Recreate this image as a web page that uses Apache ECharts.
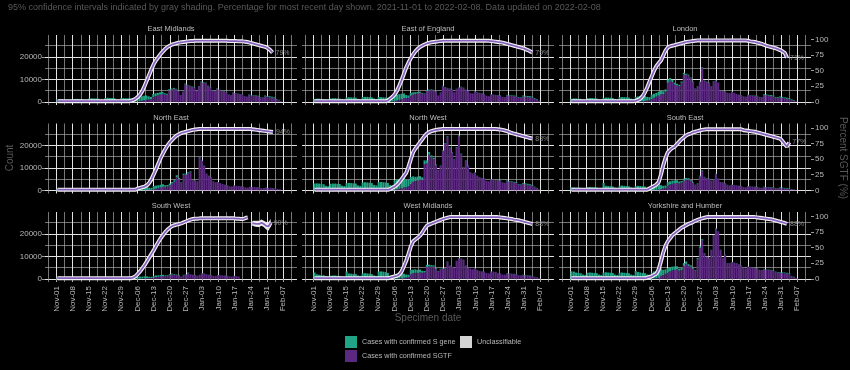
<!DOCTYPE html>
<html><head><meta charset="utf-8">
<script src="https://cdn.jsdelivr.net/npm/echarts@6/dist/echarts.min.js"></script>
<style>html,body{margin:0;padding:0;background:#000;}#c{width:850px;height:370px;}</style>
</head><body><div id="c"></div>
<script>
// ---------------- DATA ----------------
const regions = ['East Midlands','East of England','London','North East','North West','South East','South West','West Midlands','Yorkshire and Humber'];
const tickLabels = ['Nov-01','Nov-08','Nov-15','Nov-22','Nov-29','Dec-06','Dec-13','Dec-20','Dec-27','Jan-03','Jan-10','Jan-17','Jan-24','Jan-31','Feb-07'];
const countTicks = [0, 10000, 20000];
const countMinorTicks = [5000, 15000, 25000];
const pctTicks = [0, 25, 50, 75, 100];
const titleText = '95% confidence intervals indicated by gray shading. Percentage for most recent day shown. 2021-11-01 to 2022-02-08. Data updated on 2022-02-08';

// daily values from 2021-11-01 (index 0) to 2022-02-08 (index 99)
const emS = [1100,1200,1100,1000,900,600,500, 1200,1300,1300,1200,1100,800,600, 1500,1600,1500,1500,1400,1000,800, 1700,1800,1700,1700,1600,1100,900, 1700,1700,1600,1600,1500,1000,800, 1850,2000,2050,2000,1800,1350,1050, 1350,1250,1100,950,850,550,450, 550,450,450,350,250,150,200, 250,230,220,200,200,150,210, 270,260,250,220,200,160,150, 180,160,150,150,130,100,90, 130,120,110,110,100,80,90, 170,190,210,230,270,180,190, 340,360,400,420,400,300,200, 80,null];
const emG = [0,0,0,0,0,0,0, 0,0,0,0,0,0,0, 0,0,0,0,0,0,0, 0,0,0,0,0,0,0, 0,0,0,0,0,30,40, 150,300,450,700,1000,1050,1150, 2150,2550,2900,3250,3550,3250,3150, 5050,5450,5750,5450,4750,2850,4300, 7850,7370,6980,6600,6200,4850,6790, 8730,8540,8250,6980,6400,5040,4850, 5820,5240,4850,4650,4270,3200,2910, 4070,3780,3590,3390,3200,2420,2210, 3130,2910,2790,2670,2430,1820,1710, 2460,2240,2100,1880,1600,1000,700, 320,null];
const emP = [1,1,1,1,1,1,1, 1,1,1,1,1,1,1, 1,1,1,1,1,1,1, 1,1,1,1,1,1,1, 1,1,1,1,2,3,5, 8,12,18,26,35,44,53, 61,67,72,77,81,85,88, 90,92,93,94,95,95.5,96, 96.5,97,97.5,97.5,98,98,98, 98,98,98,98,98,98,98, 98,98,98,98,98,97.5,97.5, 97.5,97.5,97,97,97,96.5,96, 95,94,93,92,91,90,89, 88,86,83,79,null,null,null, null,null];

const eeS = [1300,1400,1400,1300,1200,900,700, 1500,1600,1600,1500,1400,1100,900, 1900,2000,2000,1900,1800,1300,1100, 2100,2200,2200,2100,2000,1500,1200, 2100,2100,2000,1900,1800,1240,1010, 2460,2620,2520,2340,2040,1350,1040, 1200,1000,820,660,540,380,300, 340,300,250,210,160,90,130, 140,130,120,120,110,80,120, 130,130,130,110,100,80,70, 90,90,80,80,70,50,60, 90,100,110,120,130,110,110, 220,240,260,280,300,250,260, 390,420,440,450,440,320,250, 100,null];
const eeG = [0,0,0,0,0,0,0, 0,0,0,0,0,0,0, 0,0,0,0,0,0,0, 0,0,0,0,0,0,0, 0,0,0,0,0,60,90, 340,580,880,1260,1660,1650,1760, 2800,3200,3480,3740,3960,3420,3400, 4860,5100,5350,5090,4440,2710,4070, 6960,6470,6080,5780,5390,4120,5680, 6370,6570,6170,5290,4800,3720,3630, 4610,4210,3920,3720,3430,2650,2440, 3310,3100,2990,2880,2770,2090,1990, 2880,2760,2640,2520,2400,1850,1740, 2410,2280,2160,2050,1860,1280,950, 400,null];
const eeP = [1,1,1,1,1,1,1, 1,1,1,1,1,1,1, 1,1,1,1,1,1,1, 1,1,1,1,1,1,1, 1,1,1,1,2,5,8, 12,18,26,35,45,55,63, 70,76,81,85,88,90,92, 93.5,94.5,95.5,96,96.5,97,97.5, 98,98,98,98,98,98,98, 98,98,98,98,98,98,98, 98,98,98,98,98,98,97.8, 97.5,97,96.5,96,95.5,95,94, 93,92,91,90,89,88,87, 86,84.5,83,81,79,null,null, null,null];

const loS = [1400,1500,1500,1400,1300,900,800, 1600,1700,1700,1600,1500,1100,900, 1800,1900,1900,1800,1700,1300,1100, 2000,2100,2100,2000,1900,1400,1200, 2170,2330,2380,2370,2300,1690,1430, 1890,1800,1720,1710,1700,1220,990, 1290,1170,980,770,640,530,540, 650,500,420,320,230,120,110, 140,230,140,140,130,110,140, 140,130,80,70,70,60,60, 70,60,50,50,50,40,40, 80,90,120,140,160,150,170, 310,360,370,390,390,330,340, 430,440,460,470,460,330,260, 100,null];
const loG = [0,0,0,0,0,0,0, 0,0,0,0,0,0,0, 0,0,0,0,0,0,0, 0,0,0,0,0,0,0, 30,70,120,230,400,510,670, 1310,1800,2280,2790,3300,3480,4510, 8610,9430,8820,7730,7360,7070,8460, 12250,12000,11680,10480,8770,5880,6890, 8860,15170,9360,8860,8370,6890,9060, 9460,8370,4920,4730,4630,3940,3740, 4430,3940,3450,3150,2950,2460,2260, 3120,2910,2780,2660,2540,2050,1930, 3090,2940,2730,2610,2410,1870,1760, 1970,1760,1540,1330,1140,770,540, 200,null];
const loP = [1,1,1,1,1,1,1, 1,1,1,1,1,1,1, 1,1,1,1,1,1,1, 1,1,1,1,1,1,1, 1.5,3,5,9,15,23,32, 41,50,57,62,66,74,82, 87,89,90,91,92,93,94, 95,96,96.5,97,97.5,98,98.5, 98.5,98.5,98.5,98.5,98.5,98.5,98.5, 98.5,98.5,98.5,98.5,98.5,98.5,98.5, 98.5,98.5,98.5,98.5,98.5,98.5,98.5, 98,97,96.5,96,95,94,93, 91.5,90,89,88,87,86,84.5, 83,81,78.5,71,null,null,null, null,null];

const neS = [700,800,800,700,700,500,400, 800,800,800,800,700,500,400, 800,900,900,800,800,600,500, 900,900,900,900,800,600,500, 900,900,900,900,800,600,500, 1160,1250,1330,1410,1380,1060,900, 1410,1390,1310,1200,1110,780,670, 690,700,680,800,550,280,520, 440,400,340,130,120,80,220, 200,170,110,100,90,60,50, 60,50,40,40,30,30,30, 30,30,30,30,30,20,20, 30,40,50,50,60,40,50, 60,60,60,60,60,40,30, 10,null];
const neG = [0,0,0,0,0,0,0, 0,0,0,0,0,0,0, 0,0,0,0,0,0,0, 0,0,0,0,0,0,0, 0,0,0,0,0,0,0, 40,50,70,90,120,140,200, 490,710,990,1300,1590,1520,1730, 2310,3000,3820,5900,4950,3220,6880, 6960,7600,8060,4270,4480,3920,14580, 13100,10830,7290,6400,5810,3940,3550, 3640,3150,2760,2460,2270,1770,1670, 2170,1970,1870,1770,1670,1280,1180, 1570,1460,1450,1350,1340,960,950, 1140,1040,1040,940,840,560,370, 190,null];
const neP = [1,1,1,1,1,1,1, 1,1,1,1,1,1,1, 1,1,1,1,1,1,1, 1,1,1,1,1,1,1, 1,1,1,1,1,1,1, 3,4,5,6,8,12,18, 26,34,43,52,59,66,72, 77,81,85,88,90,92,93, 94,95,96,97,97.5,98,98.5, 98.5,98.5,98.5,98.5,98.5,98.5,98.5, 98.5,98.5,98.5,98.5,98.5,98.5,98.5, 98.5,98.5,98.5,98.5,98.5,98.5,98.5, 98.5,98,97.5,97,96.5,96,95.5, 95,94.5,94,93.5,null,null,null, null,null];

const nwS = [3000,3100,3000,2900,2700,2000,1800, 2900,3000,3000,2900,2800,2100,1900, 3200,3300,3200,3100,3000,2200,2000, 3500,3600,3500,3400,3200,2400,2200, 3600,3700,3600,3500,3300,2230,2110, 4140,4370,4350,4350,4240,3310,2910, 2950,2420,1980,1710,1450,1040,1730, 1200,1100,780,580,350,230,220, 270,320,360,290,260,210,290, 370,240,160,200,170,120,110, 120,100,90,80,80,60,60, 80,100,120,140,180,140,170, 220,270,320,340,360,300,310, 430,430,440,430,410,270,190, 70,null];
const nwG = [0,0,0,0,0,0,0, 0,0,0,0,0,0,0, 0,0,0,0,0,0,0, 0,0,0,0,0,0,0, 0,0,0,0,0,70,90, 260,430,650,950,1260,1290,1790, 2950,3780,4020,4390,4850,4760,11570, 12100,15900,14720,13920,11150,8770,10780, 17530,20680,23640,18710,16740,13790,18910, 24030,16060,10240,13100,10830,7880,7390, 7980,6400,5810,5420,5120,4140,3940, 4920,4700,4480,4360,4220,3360,3130, 4180,3930,3680,3460,3240,2400,2290, 2870,2670,2460,2270,1990,1330,910, 330,null];
const nwP = [1,1,1,1,1,1,1, 1,1,1,1,1,1,1, 1,1,1,1,1,1,1, 1,1,1,1,1,1,1, 1,1,1,1,1,2,4, 6,9,13,18,23,28,38, 50,61,67,72,77,82,87, 91,93.5,95,96,97,97.5,98, 98.5,98.5,98.5,98.5,98.5,98.5,98.5, 98.5,98.5,98.5,98.5,98.5,98.5,98.5, 98.5,98.5,98.5,98.5,98.5,98.5,98.5, 98.5,98.5,98.5,98,97.5,97,96, 95,93.5,92,91,90,89,88, 87,86,85,84,83,null,null, null,null];

const seS = [1300,1300,1200,1200,1100,800,700, 1400,1500,1400,1400,1300,900,800, 3300,2000,1900,1800,1700,1200,1000, 2000,2100,2000,1900,1800,1300,1100, 1900,2000,1900,1800,1700,1200,1070, 1710,1770,1820,1910,1730,1200,1010, 1400,1400,1380,1320,1170,860,760, 780,660,540,410,250,150,160, 260,270,150,140,130,110,130, 190,130,90,90,80,60,60, 70,60,60,50,50,40,40, 90,90,90,100,110,100,100, 160,170,180,180,200,150,160, 220,250,290,300,210,150,100, 50,null];
const seG = [0,0,0,0,0,0,0, 0,0,0,0,0,0,0, 0,0,0,0,0,0,0, 0,0,0,0,0,0,0, 0,0,0,0,0,0,30, 90,130,180,290,570,800,1090, 2200,2600,2920,3080,3330,3040,3440, 4420,4840,4860,4090,3250,2350,3040, 6240,8630,5850,5260,5070,4190,4870, 7210,5070,3610,3410,3120,2440,2140, 2530,2340,2140,2050,1950,1460,1360, 1810,1710,1610,1600,1490,1100,1000, 1440,1330,1320,1220,1200,850,840, 1080,950,810,700,690,450,300, 150,null];
const seP = [1,1,1,1,1,1,1, 1,1,1,1,1,1,1, 1,1,1,1,1,1,1, 1,1,1,1,1,1,1, 1,1,1,1,1,1,3, 5,7,9,13,25,40,52, 61,65,68,70,74,78,82, 85,88,90,91,93,94,95, 96,97,97.5,98,98,98,98, 98,98,98,98,98,98,98, 98,98,98,98,98,96.5,96, 95.5,95,94.5,94,93,92,91, 90,89,88,87,86,85,84, 83,79,74,70,77,null,null, null,null];

const swS = [600,700,700,600,600,400,400, 700,700,700,700,600,500,400, 700,800,700,700,700,500,400, 700,800,800,700,700,500,400, 700,800,700,700,700,490,380, 830,880,830,860,790,590,540, 700,710,660,600,540,380,340, 400,360,290,250,190,110,170, 160,180,100,60,60,50,60, 80,80,70,60,60,40,40, 60,50,50,50,50,40,30, 40,40,30,null,null,null,null, null,null,null,null,null,null,null, null,null,null,null,null,null,null, null,null];
const swG = [0,0,0,0,0,0,0, 0,0,0,0,0,0,0, 0,0,0,0,0,0,0, 0,0,0,0,0,0,0, 0,0,0,0,0,10,20, 70,120,170,240,310,310,360, 600,790,940,1100,1260,1120,1260, 1800,1940,1810,1650,1410,890,1630, 1840,2620,1900,1740,1640,1350,1740, 2420,2320,1930,1740,1640,1260,1260, 1640,1550,1450,1450,1350,1060,970, 1260,1160,970,null,null,null,null, null,null,null,null,null,null,null, null,null,null,null,null,null,null, null,null];
const swP = [1,1,1,1,1,1,1, 1,1,1,1,1,1,1, 1,1,1,1,1,1,1, 1,1,1,1,1,1,1, 1,1,1,1,1,2,4, 8,12,17,22,28,34,40, 46,53,59,65,70,75,79, 82,84.5,86,87,88,89,90.5, 92,93.5,95,96,96.5,96.5,97, 97,97,97,97,97,97,97, 97,97,97,97,97,97,97, 97,96.5,96.5,96,96,97.5,98.5, null,89,88.5,88,88,90,88, 85,84,90,null,null,null,null, null,null];
const swLow = [null,null,null,null,null,null,null, null,null,null,null,null,null,null, null,null,null,null,null,null,null, null,null,null,null,null,null,null, null,null,null,null,null,null,null, null,null,null,null,null,null,null, null,null,null,null,null,null,null, null,null,null,null,null,null,null, null,null,null,null,null,null,null, null,null,null,null,null,null,null, null,null,null,null,null,null,null, null,null,null,null,null,null,null, null,85,84,83,83,85,83, 79,77,84,null,null,null,null, null,null];
const swHigh = [null,null,null,null,null,null,null, null,null,null,null,null,null,null, null,null,null,null,null,null,null, null,null,null,null,null,null,null, null,null,null,null,null,null,null, null,null,null,null,null,null,null, null,null,null,null,null,null,null, null,null,null,null,null,null,null, null,null,null,null,null,null,null, null,null,null,null,null,null,null, null,null,null,null,null,null,null, null,null,null,null,null,null,null, null,93,93,93,93,95,93, 91,91,96,null,null,null,null, null,null];

const wmS = [2800,2000,1800,1700,1600,1200,1000, 1400,1500,1500,1400,1300,1000,900, 3300,2400,2300,2200,2100,1500,1300, 2400,2500,2400,2300,2100,1500,1300, 3200,3300,3200,3000,2600,1270,970, 1920,2000,1860,1940,1840,1350,1080, 1920,1640,1550,1360,1270,940,700, 930,820,700,600,400,250,250, 190,140,150,60,60,50,80, 90,90,90,60,50,50,40, 50,40,40,30,30,30,20, 30,30,30,30,40,40,50, 80,80,90,110,120,100,110, 140,150,160,170,160,110,80, 40,null];
const wmG = [0,0,0,0,0,0,0, 0,0,0,0,0,0,0, 0,0,0,0,0,0,0, 0,0,0,0,0,0,0, 0,0,0,0,0,30,30, 80,100,140,260,460,550,720, 2080,2460,2650,2640,2830,2660,2800, 5270,5480,5400,5400,4300,3250,4250, 4510,4660,7550,5940,5440,4750,7920, 9110,8910,8410,5940,4950,4450,4260, 4650,3960,3460,3270,3170,2570,2380, 3270,3170,3070,2470,2360,1860,1750, 2420,2320,2210,2090,1980,1500,1390, 1660,1550,1440,1330,1140,790,620, 260,null];
const wmP = [1,1,1,1,1,1,1, 1,1,1,1,1,1,1, 1,1,1,1,1,1,1, 1,1,1,1,1,1,1, 1,1,1,1,1,2,3, 4,5,7,12,20,29,40, 52,60,63,66,69,74,80, 85,87,88.5,90,91.5,93,94.5, 96,97,98,99,99,99,99, 99,99,99,99,99,99,99, 99,99,99,99,99,99,99, 99,99,99,99,98.5,98,97.5, 97,96.5,96,95,94.5,94,93, 92,91,90,89,88,null,null, null,null];

const yhS = [3300,3200,2800,2600,2500,1900,1700, 2700,2800,2700,2600,2500,1900,1700, 2800,2900,2800,2700,2600,1900,1700, 2700,2800,2700,2600,2500,1900,1700, 3500,3000,2800,2600,2500,1860,1750, 2590,3100,3040,2890,3380,2320,1970, 1920,1750,1620,1490,1340,970,860, 1120,1080,780,630,450,280,510, 580,530,230,100,90,130,200, 230,210,130,90,110,70,70, 80,70,70,70,60,50,50, 60,50,50,50,70,80,100, 130,150,160,180,210,210,230, 260,280,290,320,310,160,110, 50,null];
const yhG = [0,0,0,0,0,0,0, 0,0,0,0,0,0,0, 0,0,0,0,0,0,0, 0,0,0,0,0,0,0, 0,0,0,0,0,40,50, 110,200,260,510,1320,1680,2230, 2880,3250,3780,4010,4260,3630,3940, 5880,6620,5720,5370,4550,3720,8690, 13820,17070,11170,9900,9110,12770,19300, 22270,20790,12770,9110,10590,6930,6930, 7420,7130,6930,6430,5940,4950,4650, 5440,5250,4950,4750,4630,3920,3800, 4270,4050,3940,3820,3690,2990,2770, 2740,2620,2510,2380,2290,1140,790, 350,null];
const yhP = [1,1,1,1,1,1,1, 1,1,1,1,1,1,1, 1,1,1,1,1,1,1, 1,1,1,1,1,1,1, 1,1,1,1,1,2,3, 4,6,8,15,28,42,53, 60,65,70,73,76,79,82, 84,86,88,89.5,91,93,94.5, 96,97,98,99,99,99,99, 99,99,99,99,99,99,99, 99,99,99,99,99,99,99, 99,99,99,99,98.5,98,97.5, 97,96.5,96,95.5,94.5,93.5,92.5, 91.5,90.5,89.5,88,null,null,null, null,null];

const sGene = [emS, eeS, loS, neS, nwS, seS, swS, wmS, yhS];
const sgtf = [emG, eeG, loG, neG, nwG, seG, swG, wmG, yhG];
const pctSGTF = [emP, eeP, loP, neP, nwP, seP, swP, wmP, yhP];

// ---------------- LAYOUT / STYLE ----------------
const DAY = 86400000;
const T0 = Date.UTC(2021, 10, 1);
const dateOf = d => T0 + d * DAY;
const X_MIN = dateOf(-4.95), X_MAX = dateOf(103.95);
const C_MIN = -1414, C_MAX = 29697;          // count axis limits
const PCT_PER = 277;                          // counts per percent on the secondary axis
const P_MIN = C_MIN / PCT_PER, P_MAX = C_MAX / PCT_PER;
const colLeft = [45, 302, 559], rowTop = [35, 123.5, 212], PW = 252, PH = 70;
const FONT = 'Liberation Sans, Arial, sans-serif';
const TEAL = '#21a386', PURPLE = '#5b2a80', UNCL = '#d4d4d4';
const MAJOR = '#e2e2e2', MINOR = '#a8a8a8';

const majorTickTimes = tickLabels.map((_, i) => dateOf(i * 7));
const minorTickTimes = [];
for (let i = -1; i < tickLabels.length; i++) minorTickTimes.push(dateOf(i * 7 + 3.5));
const labelOf = v => { const i = majorTickTimes.indexOf(v); return i >= 0 ? tickLabels[i] : ''; };

const grids = [], xAxes = [], yAxes = [], series = [], graphics = [];
regions.forEach((name, i) => {
  const row = Math.floor(i / 3), col = i % 3;
  grids.push({left: colLeft[col], top: rowTop[row], width: PW, height: PH, containLabel: false});
  const bottom = row === 2;
  // data axis (time, hidden)
  xAxes.push({type: 'time', gridIndex: i, min: X_MIN, max: X_MAX, position: 'bottom', show: false,
    splitLine: {show: false}});
  // major grid / labels (value axis over the same range)
  xAxes.push({type: 'value', gridIndex: i, min: X_MIN, max: X_MAX, position: 'bottom',
    axisLine: {show: false},
    axisTick: {show: bottom, customValues: majorTickTimes, length: 3, lineStyle: {color: '#9a9a9a'}},
    axisLabel: {show: bottom, customValues: majorTickTimes, formatter: labelOf, rotate: 90, fontSize: 8, color: '#b8b8b8', fontFamily: FONT, margin: 4, hideOverlap: false},
    splitLine: {show: true, lineStyle: {color: MAJOR, width: 1}}});
  // minor grid
  xAxes.push({type: 'value', gridIndex: i, min: X_MIN, max: X_MAX, position: 'top',
    axisLine: {show: false}, axisLabel: {show: false},
    axisTick: {show: false, customValues: minorTickTimes},
    splitLine: {show: true, lineStyle: {color: MINOR, width: 0.7}}});
  yAxes.push({type: 'value', gridIndex: i, min: C_MIN, max: C_MAX, position: 'left',
    axisLine: {show: false},
    axisTick: {show: col === 0, customValues: countTicks, length: 3, lineStyle: {color: '#9a9a9a'}},
    axisLabel: {show: col === 0, customValues: countTicks, formatter: v => String(v), fontSize: 8, color: '#b8b8b8', fontFamily: FONT, margin: 3},
    splitLine: {show: true, lineStyle: {color: MAJOR, width: 1}}});
  yAxes.push({type: 'value', gridIndex: i, min: P_MIN, max: P_MAX, position: 'right',
    axisLine: {show: false},
    axisTick: {show: col === 2, customValues: pctTicks, length: 3, lineStyle: {color: '#9a9a9a'}},
    axisLabel: {show: col === 2, customValues: pctTicks, formatter: v => String(v), fontSize: 8, color: '#b8b8b8', fontFamily: FONT, margin: 4},
    splitLine: {show: false}});
  yAxes.push({type: 'value', gridIndex: i, min: C_MIN, max: C_MAX, position: 'left',
    axisLine: {show: false}, axisLabel: {show: false},
    axisTick: {show: false, customValues: countMinorTicks},
    splitLine: {show: true, lineStyle: {color: MINOR, width: 0.7}}});

  const xi = 3 * i, yc = 3 * i, yp = 3 * i + 1;
  const pairs = arr => arr.map((v, d) => [dateOf(d), v]);
  series.push({type: 'bar', name: 'Cases with confirmed SGTF', xAxisIndex: xi, yAxisIndex: yc, stack: 'st' + i,
    data: pairs(sgtf[i]), itemStyle: {color: PURPLE}, barWidth: '92%', silent: true});
  series.push({type: 'bar', name: 'Cases with confirmed S gene', xAxisIndex: xi, yAxisIndex: yc, stack: 'st' + i,
    data: pairs(sGene[i]), itemStyle: {color: TEAL}, barWidth: '92%', silent: true});
  series.push({type: 'line', xAxisIndex: xi, yAxisIndex: yp, data: pairs(pctSGTF[i]), showSymbol: false,
    connectNulls: false, lineStyle: {color: '#f2f2f2', width: 4}, silent: true, z: 3});
  if (name === 'South West') {
    series.push({type: 'custom', xAxisIndex: xi, yAxisIndex: yp, z: 3, silent: true,
      data: [[dateOf(0), 0]],
      renderItem: (params, api) => {
        const lo = [], hi = [];
        swLow.forEach((v, d) => { if (v != null) lo.push(api.coord([dateOf(d), v])); });
        swHigh.forEach((v, d) => { if (v != null) hi.push(api.coord([dateOf(d), v])); });
        return {type: 'polygon', shape: {points: lo.concat(hi.reverse())}, style: {fill: '#e6e6e6'}};
      }});
  }
  series.push({type: 'line', xAxisIndex: xi, yAxisIndex: yp, data: pairs(pctSGTF[i]), showSymbol: false,
    connectNulls: false, lineStyle: {color: '#8560bd', width: 1.7}, silent: true, z: 4,
    endLabel: {show: true, formatter: p => Math.round(p.value[1]) + '%', color: '#8a8a8a', fontSize: 7, fontFamily: FONT, distance: 3}});

  graphics.push({type: 'text', x: colLeft[col] + PW / 2, y: rowTop[row] - 6,
    style: {text: name, fill: '#bdbdbd', fontSize: 7.5, fontFamily: FONT, align: 'center', verticalAlign: 'middle'}});
});
series.push({type: 'bar', name: 'Unclassifiable', xAxisIndex: 0, yAxisIndex: 0, data: [], itemStyle: {color: UNCL}});

graphics.push({type: 'text', x: 8, y: 8, style: {text: titleText, fill: '#595959', fontSize: 9, fontFamily: FONT, align: 'left', verticalAlign: 'middle'}});
graphics.push({type: 'text', x: 10, y: 158, rotation: Math.PI / 2, style: {text: 'Count', fill: '#595959', fontSize: 10, fontFamily: FONT, align: 'center', verticalAlign: 'middle'}});
graphics.push({type: 'text', x: 428, y: 318, style: {text: 'Specimen date', fill: '#595959', fontSize: 10, fontFamily: FONT, align: 'center', verticalAlign: 'middle'}});
graphics.push({type: 'text', x: 843, y: 158, rotation: -Math.PI / 2, style: {text: 'Percent SGTF (%)', fill: '#595959', fontSize: 10, fontFamily: FONT, align: 'center', verticalAlign: 'middle'}});

const chart = echarts.init(document.getElementById('c'), null, {renderer: 'canvas'});
chart.setOption({
  backgroundColor: '#000000',
  animation: false,
  grid: grids, xAxis: xAxes, yAxis: yAxes, series: series,
  legend: [
    {data: ['Cases with confirmed S gene', 'Cases with confirmed SGTF'], orient: 'vertical', left: 345, top: 336, padding: 0,
     itemWidth: 12, itemHeight: 12, itemGap: 2, icon: 'rect', selectedMode: false,
     textStyle: {color: '#b8b8b8', fontSize: 7.2, fontFamily: FONT}},
    {data: ['Unclassifiable'], orient: 'vertical', left: 460, top: 336, padding: 0,
     itemWidth: 12, itemHeight: 12, itemGap: 2, icon: 'rect', selectedMode: false,
     textStyle: {color: '#b8b8b8', fontSize: 7.2, fontFamily: FONT}}
  ],
  graphic: graphics
});
</script></body></html>
